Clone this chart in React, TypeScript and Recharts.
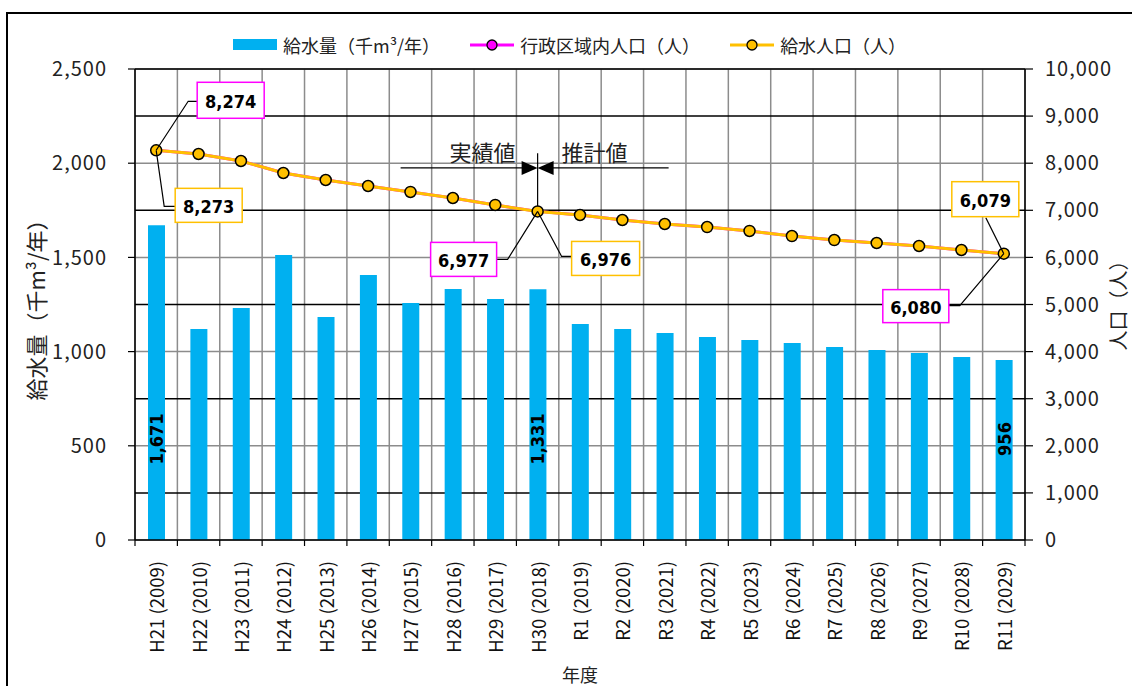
import React from "react";
import {
  ComposedChart,
  Bar,
  Line,
  XAxis,
  YAxis,
  CartesianGrid,
  LabelList,
  ReferenceLine,
  ReferenceDot,
} from "recharts";

// fiscal years (wareki + western year)
const years = [
  "H21 (2009)", "H22 (2010)", "H23 (2011)", "H24 (2012)", "H25 (2013)",
  "H26 (2014)", "H27 (2015)", "H28 (2016)", "H29 (2017)", "H30 (2018)",
  "R1 (2019)", "R2 (2020)", "R3 (2021)", "R4 (2022)", "R5 (2023)",
  "R6 (2024)", "R7 (2025)", "R8 (2026)", "R9 (2027)", "R10 (2028)",
  "R11 (2029)",
];

// 給水量 (千m³/年)
const supplyVolume = [
  1671, 1120, 1231, 1513, 1184, 1407, 1258, 1332, 1279, 1331,
  1147, 1120, 1099, 1078, 1062, 1046, 1024, 1008, 993, 971, 956,
];

// 行政区域内人口 (人)
const adminPopulation = [
  8274, 8195, 8047, 7792, 7643, 7516, 7389, 7261, 7113, 6977,
  6900, 6794, 6709, 6645, 6561, 6454, 6369, 6306, 6242, 6157, 6080,
];

// 給水人口 (人)
const servedPopulation = [
  8273, 8195, 8047, 7792, 7643, 7516, 7389, 7261, 7113, 6976,
  6900, 6794, 6709, 6645, 6561, 6454, 6369, 6306, 6242, 6157, 6079,
];

const leftTicks = [0, 500, 1000, 1500, 2000, 2500];
const rightTicks = [0, 1000, 2000, 3000, 4000, 5000, 6000, 7000, 8000, 9000, 10000];
const darkGridValues = [1000, 3000, 5000, 7000, 9000, 10000];

const labeledIdx = [0, 9, 20];
const lastActualIdx = 9;
const arrowLevel = 7900;
const arrowTop = 8210;

const data = years.map((name, i) => ({
  name,
  supply: supplyVolume[i],
  admin: adminPopulation[i],
  served: servedPopulation[i],
}));

const JP = "'Noto Sans CJK JP', 'Noto Sans', sans-serif";
const NUM_BOLD = "'DejaVu Sans Condensed', 'Liberation Sans Narrow', 'Noto Sans', sans-serif";

const MAGENTA = "#FF00FF";
const YELLOW = "#FFC000";
const BLUE = "#00B0F0";
const GRAY = "#8c8c8c";

type Spec = { dx: number; dy: number; w: number; h: number; leader: number[][] };

// callout box offsets relative to the data point
const adminCallouts: Record<number, Spec> = {
  0: { dx: 41, dy: -68, w: 67, h: 36, leader: [[0, 0], [32, -49], [41, -49]] },
  9: { dx: -107, dy: 31, w: 66, h: 34, leader: [[0, 0], [-30, 48], [-41, 48]] },
  20: { dx: -121, dy: 36, w: 66, h: 33, leader: [[0, 0], [-44, 52], [-55, 52]] },
};
const servedCallouts: Record<number, Spec> = {
  0: { dx: 19, dy: 38, w: 67, h: 34, leader: [[0, 0], [8, 56], [19, 56]] },
  9: { dx: 34, dy: 30, w: 68, h: 34, leader: [[0, 0], [24, 45], [34, 45]] },
  20: { dx: -52, dy: -72, w: 67, h: 35, leader: [[0, 0], [-18, -36]] },
};

const fmt = (v: number) => Number(v).toLocaleString("en-US");

function makeCallout(specs: Record<number, Spec>, color: string) {
  return (props: any) => {
    const spec = specs[props.index];
    if (!spec) return null;
    const px = props.viewBox?.x ?? props.x;
    const py = props.viewBox?.y ?? props.y;
    return (
      <g>
        <polyline
          points={spec.leader.map(([dx, dy]) => `${px + dx},${py + dy}`).join(" ")}
          fill="none"
          stroke="#000"
          strokeWidth={1.2}
        />
        <rect
          x={px + spec.dx}
          y={py + spec.dy}
          width={spec.w}
          height={spec.h}
          fill="#fff"
          stroke={color}
          strokeWidth={1.5}
        />
        <text
          x={px + spec.dx + spec.w / 2}
          y={py + spec.dy + spec.h / 2 + 1}
          textAnchor="middle"
          dominantBaseline="central"
          fontFamily={NUM_BOLD}
          fontWeight="bold"
          fontSize={18}
          fill="#000"
        >
          {fmt(props.value)}
        </text>
      </g>
    );
  };
}

const BarValueLabel = (props: any) => {
  if (!labeledIdx.includes(props.index)) return null;
  const vb = props.viewBox ?? props;
  const cx = vb.x + vb.width / 2;
  const cy = vb.y + vb.height - 101;
  return (
    <text
      transform={`translate(${cx},${cy}) rotate(-90)`}
      textAnchor="middle"
      dominantBaseline="central"
      fontFamily={NUM_BOLD}
      fontWeight="bold"
      fontSize={18}
      fill="#000"
    >
      {fmt(props.value)}
    </text>
  );
};

const YearTick = (props: any) => {
  const { x, y, payload, index } = props;
  const half = payload?.offset ?? 890 / years.length / 2;
  return (
    <g>
      <line x1={x - half} x2={x - half} y1={y} y2={y + 6} stroke="#000" strokeWidth={1.2} />
      {index === years.length - 1 && (
        <line x1={x + half} x2={x + half} y1={y} y2={y + 6} stroke="#000" strokeWidth={1.2} />
      )}
      <text
        transform={`translate(${x},${y + 21}) rotate(-90)`}
        textAnchor="end"
        dominantBaseline="central"
        fontFamily={JP}
        fontSize={18.5}
        fill="#111"
      >
        {payload.value}
      </text>
    </g>
  );
};

const ArrowMark = (props: any) => {
  const { cx, cy } = props;
  return (
    <g>
      <line x1={cx - 137} x2={cx - 15} y1={cy} y2={cy} stroke="#000" strokeWidth={1.2} />
      <polygon points={`${cx - 16},${cy - 7} ${cx - 16},${cy + 7} ${cx},${cy}`} fill="#000" />
      <line x1={cx + 15} x2={cx + 131} y1={cy} y2={cy} stroke="#000" strokeWidth={1.2} />
      <polygon points={`${cx + 16},${cy - 7} ${cx + 16},${cy + 7} ${cx},${cy}`} fill="#000" />
      <text x={cx - 55} y={cy - 17} textAnchor="middle" dominantBaseline="central" fontFamily={JP} fontSize={22} fill="#222">
        実績値
      </text>
      <text x={cx + 57} y={cy - 17} textAnchor="middle" dominantBaseline="central" fontFamily={JP} fontSize={22} fill="#222">
        推計値
      </text>
    </g>
  );
};

function LegendItem({ kind, color, label }: { kind: "bar" | "line"; color: string; label: string }) {
  return (
    <div style={{ display: "flex", alignItems: "center", marginRight: 30 }}>
      <svg width={44} height={14} style={{ marginRight: 6 }}>
        {kind === "bar" ? (
          <rect x={0} y={1} width={44} height={11} fill={color} />
        ) : (
          <>
            <line x1={0} x2={44} y1={7} y2={7} stroke={color} strokeWidth={3} />
            <circle cx={22} cy={7} r={5} fill={color} stroke="#000" strokeWidth={1.3} />
          </>
        )}
      </svg>
      <span>{label}</span>
    </div>
  );
}

export default function App() {
  return (
    <div style={{ position: "absolute", left: 0, top: 0, width: 1132, height: 686, overflow: "hidden", background: "#fff" }}>
      <div
        style={{
          position: "absolute",
          left: 6,
          top: 12,
          width: 1200,
          height: 800,
          border: "2px solid #000",
        }}
      />
      <div
        style={{
          position: "absolute",
          left: 233,
          top: 33,
          display: "flex",
          fontFamily: JP,
          fontSize: 18,
          color: "#222",
          lineHeight: "24px",
        }}
      >
        <LegendItem kind="bar" color={BLUE} label="給水量（千m³/年）" />
        <LegendItem kind="line" color={MAGENTA} label="行政区域内人口（人）" />
        <LegendItem kind="line" color={YELLOW} label="給水人口（人）" />
      </div>
      <div style={{ position: "absolute", left: 0, top: 0 }}>
        <ComposedChart
          width={1132}
          height={686}
          data={data}
          margin={{ top: 69, right: 0, bottom: 0, left: 0 }}
        >
          <CartesianGrid
            yAxisId="left"
            stroke={GRAY}
            strokeWidth={1.5}
            verticalCoordinatesGenerator={({ offset }: any) =>
              Array.from({ length: years.length + 1 }, (_, i) => offset.left + (offset.width * i) / years.length)
            }
          />
          <CartesianGrid
            yAxisId="right"
            vertical={false}
            stroke="#000"
            strokeWidth={1.5}
            horizontalValues={darkGridValues}
          />
          <XAxis
            dataKey="name"
            height={146}
            interval={0}
            tickLine={false}
            tickSize={0}
            tickMargin={0}
            axisLine={{ stroke: "#000", strokeWidth: 1.5 }}
            tick={<YearTick />}
            label={() => (
              <text x={580} y={674} textAnchor="middle" dominantBaseline="central" fontFamily={JP} fontSize={18} fill="#222">
                年度
              </text>
            )}
          />
          <YAxis
            yAxisId="left"
            width={135}
            domain={[0, 2500]}
            ticks={leftTicks}
            tickFormatter={fmt}
            tickSize={7}
            tickMargin={21}
            axisLine={{ stroke: "#000", strokeWidth: 1.5 }}
            tickLine={{ stroke: "#000", strokeWidth: 1.2 }}
            tick={{ fill: "#222", fontSize: 20, fontFamily: JP, letterSpacing: 1 }}
            label={(p: any) => (
              <text
                transform={`translate(35,${p.viewBox.y + p.viewBox.height / 2}) rotate(-90)`}
                textAnchor="middle"
                dominantBaseline="central"
                fontFamily={JP}
                fontSize={22}
                fill="#222"
              >
                給水量（千m³/年）
              </text>
            )}
          />
          <YAxis
            yAxisId="right"
            orientation="right"
            width={107}
            domain={[0, 10000]}
            ticks={rightTicks}
            tickFormatter={fmt}
            tickSize={8}
            tickMargin={12}
            axisLine={{ stroke: "#000", strokeWidth: 1.5 }}
            tickLine={{ stroke: "#000", strokeWidth: 1.2 }}
            tick={{ fill: "#222", fontSize: 20, fontFamily: JP, letterSpacing: 1 }}
            label={(p: any) => (
              <text
                transform={`translate(1117,${p.viewBox.y + p.viewBox.height / 2 - 4}) rotate(-90)`}
                textAnchor="middle"
                dominantBaseline="central"
                fontFamily={JP}
                fontSize={20}
                fill="#222"
              >
                人口（人）
              </text>
            )}
          />
          <Bar yAxisId="left" dataKey="supply" fill={BLUE} barSize={17} isAnimationActive={false}>
            <LabelList dataKey="supply" content={BarValueLabel} />
          </Bar>
          <ReferenceLine
            yAxisId="right"
            segment={[
              { x: years[lastActualIdx], y: servedPopulation[lastActualIdx] },
              { x: years[lastActualIdx], y: arrowTop },
            ]}
            stroke="#000"
            strokeWidth={1.2}
          />
          <ReferenceDot
            yAxisId="right"
            x={years[lastActualIdx]}
            y={arrowLevel}
            shape={ArrowMark}
          />
          <Line
            yAxisId="right"
            dataKey="admin"
            stroke={MAGENTA}
            strokeWidth={3}
            dot={false}
            isAnimationActive={false}
          />
          <Line
            yAxisId="right"
            dataKey="served"
            stroke={YELLOW}
            strokeWidth={3}
            dot={{ r: 5.5, fill: YELLOW, stroke: "#000", strokeWidth: 1.5 }}
            isAnimationActive={false}
          />
          <Line
            yAxisId="right"
            dataKey="admin"
            stroke="none"
            dot={false}
            legendType="none"
            isAnimationActive={false}
          >
            <LabelList dataKey="admin" content={makeCallout(adminCallouts, MAGENTA)} />
          </Line>
          <Line
            yAxisId="right"
            dataKey="served"
            stroke="none"
            dot={false}
            legendType="none"
            isAnimationActive={false}
          >
            <LabelList dataKey="served" content={makeCallout(servedCallouts, YELLOW)} />
          </Line>
        </ComposedChart>
      </div>
    </div>
  );
}
